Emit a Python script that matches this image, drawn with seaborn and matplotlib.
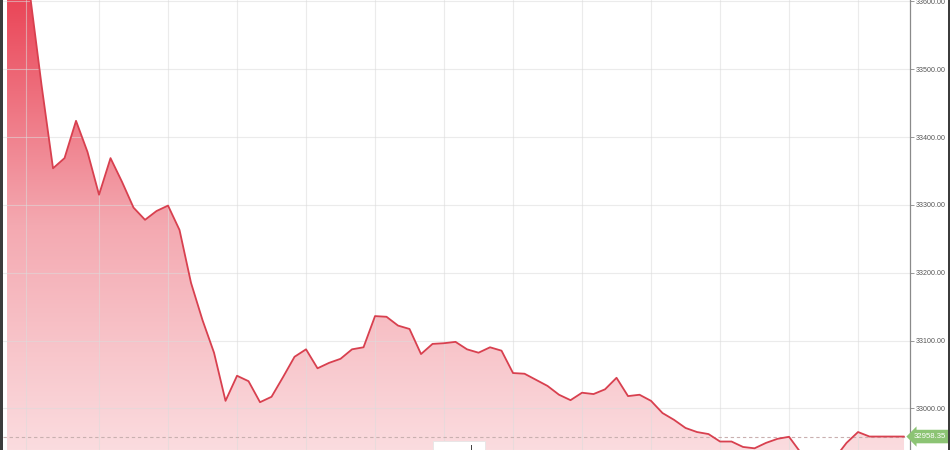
import numpy as np
import pandas as pd
import matplotlib.pyplot as plt
import seaborn as sns
from matplotlib.colors import LinearSegmentedColormap
from matplotlib.patches import Rectangle

# price values, one every ~11.5 px
prices = [33661, 33639, 33610, 33477, 33354, 33369, 33424, 33378, 33315, 33369,
          33334, 33296, 33278, 33291, 33299, 33263, 33185, 33130, 33082, 33011,
          33048, 33040, 33009, 33017, 33046, 33076, 33087, 33059, 33067, 33073,
          33087, 33090, 33136, 33135, 33122, 33117, 33080, 33095, 33096, 33098,
          33087, 33082, 33090, 33085, 33052, 33051, 33042, 33033, 33020, 33012,
          33023, 33021, 33028, 33045, 33018, 33020, 33011, 32993, 32983, 32971,
          32965, 32962, 32951, 32951, 32943, 32941, 32949, 32955, 32958, 32935,
          32921, 32918, 32927, 32949, 32965, 32958.35, 32958.35, 32958.35, 32958.35]
last_price = 32958.35
y_ticks = [33000, 33100, 33200, 33300, 33400, 33500, 33600]

df = pd.DataFrame({"step": np.arange(len(prices)), "price": prices})

sns.set_style("white")
plt.rcParams["font.family"] = ["Liberation Sans", "DejaVu Sans"]

fig = plt.figure(figsize=(9.5, 4.5), dpi=100)
ax = fig.add_axes([3 / 950, 0, 907 / 950, 1])

ymin, ymax = 32938.5, 33602.2
xmin, xmax = -0.35, 78.52
ax.set_xlim(xmin, xmax)
ax.set_ylim(ymin, ymax)

# gradient fill under the line
fill = ax.fill_between(df["step"], df["price"], ymin, facecolor="none", edgecolor="none")
cmap = LinearSegmentedColormap.from_list("redfade", ["#fbdcdf", "#f4a9b1", "#ea4658"])
grad = np.linspace(0, 1, 256).reshape(-1, 1)
im = ax.imshow(grad, extent=[xmin, xmax, ymin, ymax], origin="lower", aspect="auto",
               cmap=cmap, zorder=1)
im.set_clip_path(fill.get_paths()[0], ax.transData)

# grid
for yt in y_ticks:
    ax.axhline(yt, color="#dcdcdc", lw=0.8, alpha=0.55, zorder=1.5)
for xv in [1.63] + list(range(8, 79, 6)):
    ax.axvline(xv, color="#dcdcdc", lw=0.8, alpha=0.55, zorder=1.5)

sns.lineplot(data=df, x="step", y="price", color="#d8404f", lw=1.3, ax=ax, zorder=3)

ax.axhline(last_price, color="#c9b0b0", lw=0.8, ls=(0, (3, 2.5)), zorder=2.5)

ax.yaxis.tick_right()
ax.set_yticks(y_ticks)
ax.set_yticklabels([f"{v:.2f}" for v in y_ticks])
ax.tick_params(axis="y", direction="out", length=3, width=0.6, color="#888888",
               labelsize=5.1, labelcolor="#555555", pad=1)
ax.set_xticks([])
ax.set_xlabel("")
ax.set_ylabel("")
for side in ["top", "bottom", "left"]:
    ax.spines[side].set_visible(False)
ax.spines["right"].set_color("#8a8a8a")
ax.spines["right"].set_linewidth(0.9)

# last price tag
ax.text(1.0045, last_price, f"{last_price:.2f}", transform=ax.get_yaxis_transform(),
        ha="left", va="center", fontsize=5.6, color="white", clip_on=False, zorder=5,
        bbox=dict(boxstyle="larrow,pad=0.42", facecolor="#8cc474", edgecolor="none"))

# small toolbar stub at the bottom and the dark frame edges
fig.add_artist(Rectangle((433 / 950, 0), 52 / 950, 9 / 450, transform=fig.transFigure,
                         facecolor="white", edgecolor="#e6e6e6", lw=0.6, zorder=6))
fig.add_artist(Rectangle((471 / 950, 0), 1.2 / 950, 5 / 450, transform=fig.transFigure,
                         facecolor="#444444", edgecolor="none", zorder=7))
fig.add_artist(Rectangle((0, 0), 3 / 950, 1, transform=fig.transFigure,
                         facecolor="#3c3c3c", edgecolor="none", zorder=8))
fig.add_artist(Rectangle((947.5 / 950, 0), 2.5 / 950, 1, transform=fig.transFigure,
                         facecolor="#3c3c3c", edgecolor="none", zorder=8))

fig.savefig("out.png", dpi=100)
